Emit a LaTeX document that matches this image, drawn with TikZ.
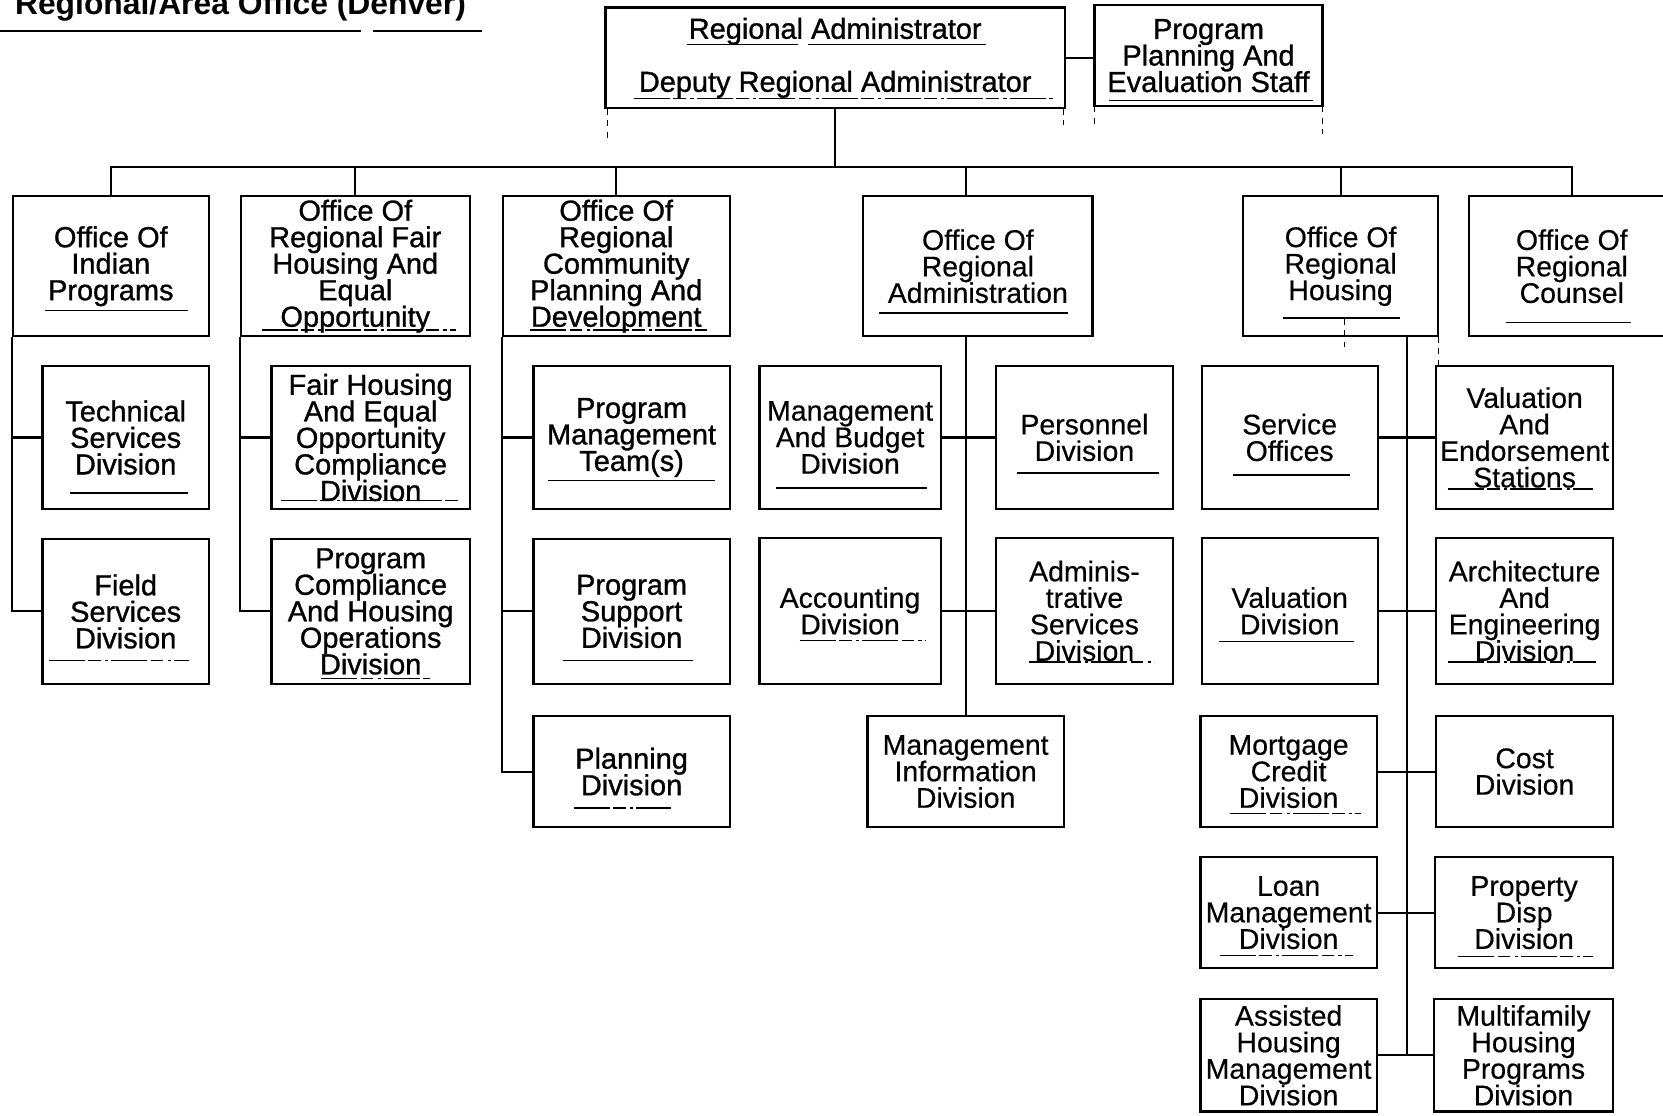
\documentclass[tikz,border=0pt]{standalone}
\usepackage{fontspec}
\setmainfont{Liberation Sans}
\newfontfamily\heavyfam[FakeBold=1.0]{Liberation Sans}
\newfontfamily\lightfam[FakeBold=0.4]{Liberation Sans}
\newcommand\bxfont{\lightfam\fontsize{26.8}{25}\selectfont\lineskiplimit=-50pt\relax}
\newcommand\hvfont{\heavyfam\fontsize{27.3}{25}\selectfont\lineskiplimit=-50pt\relax}
\newcommand\ttlfont{\fontsize{30}{32}\selectfont\bfseries}
\tikzset{
  box/.style={draw, line width=2.1pt, inner sep=0pt, align=center, font=\bxfont},
  hbox/.style={box, font=\hvfont},
  conn/.style={line width=1.9pt},
  uline/.style={line width=1.3pt},
  dline/.style={line width=1.3pt, dash pattern=on 34pt off 3pt on 12pt off 4pt on 3pt off 3pt},
  ghost/.style={line width=1pt, dash pattern=on 6pt off 5pt},
}
\begin{document}
\begin{tikzpicture}[x=1pt, y=-1pt]
\useasboundingbox (0,0) rectangle (1568,1052);

% title (partly cut by the top edge, as in the original)
\node[anchor=base west, inner sep=0pt, font=\ttlfont] (title) at (14,14) {Regional/Area Office (Denver)};
\draw[line width=1.6pt] (0,29) -- (340,29) (352,29) -- (454,29);

% top level
\node[hbox, minimum width=433pt, minimum height=95pt] (ra) at (787.5,54.5) {Regional Administrator\\[25pt]Deputy Regional Administrator};
\node[hbox, minimum width=215pt, minimum height=95pt] (ppe) at (1139.5,52.5) {Program\\Planning And\\Evaluation Staff};

% offices
\node[hbox, minimum width=185pt, minimum height=132pt] (indian) at (104.5,251) {Office Of\\Indian\\Programs};
\node[hbox, minimum width=216pt, minimum height=132pt] (fho) at (335,251) {Office Of\\Regional Fair\\Housing And\\Equal\\Opportunity};
\node[hbox, minimum width=214pt, minimum height=132pt] (cpd) at (581,251) {Office Of\\Regional\\Community\\Planning And\\Development};
\node[box, minimum width=216pt, minimum height=132pt] (adm) at (922,251) {Office Of\\Regional\\Administration};
\node[box, minimum width=184pt, minimum height=132pt] (hous) at (1264,251) {Office Of\\Regional\\Housing};
\node[box, minimum width=194pt, minimum height=132pt] (counsel) at (1482,251) {Office Of\\Regional\\Counsel};

% column 1
\node[hbox, minimum width=157pt, minimum height=135pt] (tech) at (118.5,412.5) {Technical\\Services\\Division};
\node[hbox, minimum width=157pt, minimum height=137pt] (field) at (118.5,576.5) {Field\\Services\\Division};
% column 2
\node[hbox, minimum width=187pt, minimum height=135pt] (fhcomp) at (349.5,412.5) {Fair Housing\\And Equal\\Opportunity\\Compliance\\Division};
\node[hbox, minimum width=187pt, minimum height=137pt] (pcomp) at (349.5,576.5) {Program\\Compliance\\And Housing\\Operations\\Division};
% column 3
\node[hbox, minimum width=185pt, minimum height=135pt] (pmt) at (595.5,412.5) {Program\\Management\\Team(s)};
\node[hbox, minimum width=185pt, minimum height=137pt] (psup) at (595.5,576.5) {Program\\Support\\Division};
\node[hbox, minimum width=185pt, minimum height=105pt] (plan) at (595.5,727.5) {Planning\\Division};
% column 4
\node[box, minimum width=171pt, minimum height=135pt] (mab) at (801.5,412.5) {Management\\And Budget\\Division};
\node[box, minimum width=167pt, minimum height=135pt] (pers) at (1022.5,412.5) {Personnel\\Division};
\node[box, minimum width=171pt, minimum height=138pt] (acc) at (801.5,576) {Accounting\\Division};
\node[box, minimum width=167pt, minimum height=138pt] (admsvc) at (1022.5,576) {Adminis-\\trative\\Services\\Division};
\node[box, minimum width=185pt, minimum height=105pt] (mis) at (910.5,727.5) {Management\\Information\\Division};
% column 5
\node[box, minimum width=166pt, minimum height=135pt] (so) at (1216,412.5) {Service\\Offices};
\node[box, minimum width=167pt, minimum height=135pt] (ves) at (1437.5,412.5) {Valuation\\And\\Endorsement\\Stations};
\node[box, minimum width=166pt, minimum height=138pt] (vd) at (1216,576) {Valuation\\Division};
\node[box, minimum width=167pt, minimum height=138pt] (ae) at (1437.5,576) {Architecture\\And\\Engineering\\Division};
\node[box, minimum width=166pt, minimum height=105pt] (mc) at (1215,727.5) {Mortgage\\Credit\\Division};
\node[box, minimum width=167pt, minimum height=105pt] (cost) at (1437.5,727.5) {Cost\\Division};
\node[box, minimum width=166pt, minimum height=105pt] (loan) at (1215,860.5) {Loan\\Management\\Division};
\node[box, minimum width=168pt, minimum height=105pt] (pd) at (1437,860.5) {Property\\Disp\\Division};
\node[box, minimum width=166pt, minimum height=106pt] (ahm) at (1215,995) {Assisted\\Housing\\Management\\Division};
\node[box, minimum width=169pt, minimum height=106pt] (mf) at (1436.5,995) {Multifamily\\Housing\\Programs\\Division};

% connectors: top
\coordinate (bus) at (0,157);
\coordinate (s5) at (1327,994);
\draw[conn] (ra.east) -- (ra.east -| ppe.west);
\draw[conn] (ra.south) -- (bus -| ra.south);
\draw[conn] (indian.north) -- (bus -| indian.north) -- (bus -| counsel.north) -- (counsel.north);
\draw[conn] (fho.north) -- (bus -| fho.north);
\draw[conn] (cpd.north) -- (bus -| cpd.north);
\draw[conn] (adm.north -| mis.north) -- (bus -| mis.north);
\draw[conn] (hous.north) -- (bus -| hous.north);

% column 1
\draw[conn] (indian.south west) |- (field.west);
\draw[conn] (tech.west) -- (tech.west -| indian.west);
% column 2
\draw[conn] (fho.south west) |- (pcomp.west);
\draw[conn] (fhcomp.west) -- (fhcomp.west -| fho.west);
% column 3
\draw[conn] (cpd.south west) |- (plan.west);
\draw[conn] (pmt.west) -- (pmt.west -| cpd.west);
\draw[conn] (psup.west) -- (psup.west -| cpd.west);
% column 4
\draw[conn] (adm.south -| mis.north) -- (mis.north);
\draw[conn] (mab.east) -- (pers.west);
\draw[conn] (acc.east) -- (admsvc.west);
% column 5
\draw[conn] (hous.south -| s5) -- (s5);
\draw[conn] (so.east) -- (ves.west);
\draw[conn] (vd.east) -- (ae.west);
\draw[conn] (mc.east) -- (cost.west);
\draw[conn] (loan.east) -- (pd.west);
\draw[conn] (ahm.east) -- (mf.west);

% faint scan marks below boxes
\draw[ghost] (573,102) -- (573,135);
\draw[ghost] (1003,102) -- (1003,118);
\draw[ghost] (1032,100) -- (1032,120);
\draw[ghost] (1247,100) -- (1247,126);
\draw[ghost] (1268,300) -- (1268,327);
\draw[ghost] (1356,317) -- (1356,345);

% underlines beneath the texts
\draw[uline] (648,42) -- (752,42) (762,42) -- (930,42);
\draw[dline] (598,93) -- (993,93);
\draw[uline] (1046,95) -- (1238,95);
\draw[uline] (42,293) -- (177,293);
\draw[dline] (247,311) -- (430,311);
\draw[dline] (500,311) -- (670,311);
\draw[uline] (829,295) -- (1007,295);
\draw[uline] (1210,300) -- (1320,300);
\draw[uline] (1420,304) -- (1538,304);
\draw[uline] (66,465) -- (177,465);
\draw[dline] (265,472) -- (435,472);
\draw[uline] (517,453) -- (674,453);
\draw[uline] (732,460) -- (874,460);
\draw[uline] (959,446) -- (1093,446);
\draw[uline] (1163,448) -- (1273,448);
\draw[dline] (1365,461) -- (1502,461);
\draw[dline] (46,623) -- (178,623);
\draw[dline] (303,640) -- (405,640);
\draw[uline] (531,623) -- (653,623);
\draw[dline] (754,604) -- (873,604);
\draw[dline] (970,624) -- (1088,624);
\draw[uline] (1149,605) -- (1277,605);
\draw[dline] (1365,624) -- (1505,624);
\draw[dline] (541,762) -- (633,762);
\draw[dline] (1160,767) -- (1283,767);
\draw[dline] (1150,901) -- (1276,901);
\draw[dline] (1375,902) -- (1502,902);
\end{tikzpicture}
\end{document}
